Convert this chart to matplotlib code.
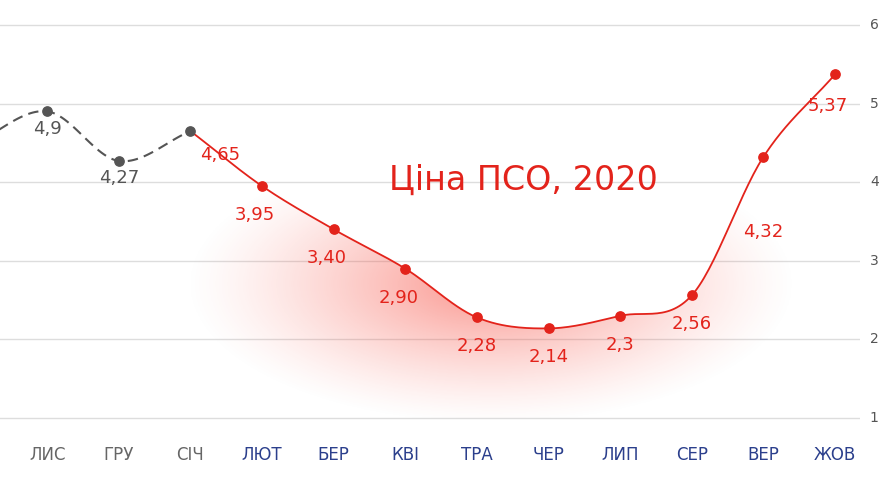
import matplotlib.pyplot as plt
import numpy as np
from matplotlib.patches import Polygon

months = ['ЛИС', 'ГРУ', 'СІЧ', 'ЛЮТ', 'БЕР', 'КВІ', 'ТРА', 'ЧЕР', 'ЛИП', 'СЕР', 'ВЕР', 'ЖОВ']
old_vals = [4.9, 4.27, 4.65]
new_vals = [4.65, 3.95, 3.40, 2.90, 2.28, 2.14, 2.3, 2.56, 4.32, 5.37]
old_labels = ['4,9', '4,27']
new_labels = ['4,65', '3,95', '3,40', '2,90', '2,28', '2,14', '2,3', '2,56', '4,32', '5,37']

RED = '#e3231b'
GRAY = '#555555'
NAVY = '#2b3f8c'

def smooth(xs, ys, n=30):
    xs = np.asarray(xs, float); ys = np.asarray(ys, float)
    px = np.concatenate([[2*xs[0]-xs[1]], xs, [2*xs[-1]-xs[-2]]])
    py = np.concatenate([[2*ys[0]-ys[1]], ys, [2*ys[-1]-ys[-2]]])
    ox, oy = [], []
    for i in range(1, len(px)-2):
        t = np.linspace(0, 1, n)
        m1 = (py[i+1]-py[i-1])/2; m2 = (py[i+2]-py[i])/2
        h00 = 2*t**3-3*t**2+1; h10 = t**3-2*t**2+t; h01 = -2*t**3+3*t**2; h11 = t**3-t**2
        ox.extend(px[i] + t*(px[i+1]-px[i]))
        oy.extend(h00*py[i] + h10*m1 + h01*py[i+1] + h11*m2)
    return np.array(ox), np.array(oy)

fig = plt.figure(figsize=(8.93, 4.80), dpi=100)
ax = fig.add_axes([0, 60/480, 860/893, 410/480])
ax.set_xlim(-0.66, 11.35)
ax.set_ylim(0.975, 6.19)

for y in range(1, 7):
    ax.axhline(y, color='#dddddd', lw=1, zorder=0)
    ax.text(11.55, y, str(y), ha='center', va='center', fontsize=10, color='#555555',
            transform=ax.transData, clip_on=False)

# old (dashed) series with lead-in from the left
ox_pts = [-1] + list(range(3))
oy_pts = [4.5] + old_vals
sx, sy = smooth(ox_pts, oy_pts)
ax.plot(sx, sy, color=GRAY, lw=1.5, ls=(0, (5, 3)), zorder=3)
ax.scatter(range(3), old_vals, color=GRAY, s=45, zorder=4)

# 2020 series
nx = list(range(2, 12))
sx, sy = smooth(nx, new_vals)
ax.plot(sx, sy, color=RED, lw=1.3, zorder=3)
ax.scatter(nx[1:], new_vals[1:], color=RED, s=45, zorder=4)

# glow under curve
gx, gy = np.meshgrid(np.linspace(-0.66, 11.35, 400), np.linspace(1, 6.19, 300))
d = np.sqrt(((gx-6.2)/4.3)**2 + ((gy-2.7)/1.8)**2)
alpha = np.clip(1-d, 0, 1)**1.3 * 0.6
img = np.zeros(gx.shape + (4,))
img[..., 0] = 0.97; img[..., 1] = 0.3; img[..., 2] = 0.25; img[..., 3] = alpha
im = ax.imshow(img, extent=(-0.66, 11.35, 1, 6.19), origin='lower', aspect='auto', zorder=1)
poly = Polygon(np.column_stack([np.r_[sx, sx[-1], sx[0]], np.r_[sy, 1, 1]]),
               closed=True, transform=ax.transData, facecolor='none', edgecolor='none')
ax.add_patch(poly)
im.set_clip_path(poly)

# labels
for i, t in enumerate(old_labels):
    ax.text(i, old_vals[i]-0.22, t, ha='center', va='center', fontsize=13, color=GRAY,
            fontweight='medium', zorder=5)
offs = [(0.42, -0.3), (-0.1, -0.37), (-0.1, -0.37), (-0.1, -0.37), (0.0, -0.37),
        (0.0, -0.37), (0.0, -0.37), (0.0, -0.37), (0.0, -0.95), (-0.1, -0.4)]
for i, t in enumerate(new_labels):
    dx, dy = offs[i]
    ax.text(nx[i]+dx, new_vals[i]+dy, t, ha='center', va='center',
            fontsize=13, color=RED, fontweight='medium', zorder=5)

ax.text(6.65, 4.03, 'Ціна ПСО, 2020', ha='center', va='center', fontsize=24, color=RED,
        fontweight='medium', zorder=5)

for i, m in enumerate(months):
    ax.text(i, 0.53, m, ha='center', va='center', fontsize=12,
            color='#666666' if i < 3 else NAVY, clip_on=False)

ax.set_xticks([]); ax.set_yticks([])
for s in ax.spines.values():
    s.set_visible(False)

fig.savefig('out.png', dpi=100)
